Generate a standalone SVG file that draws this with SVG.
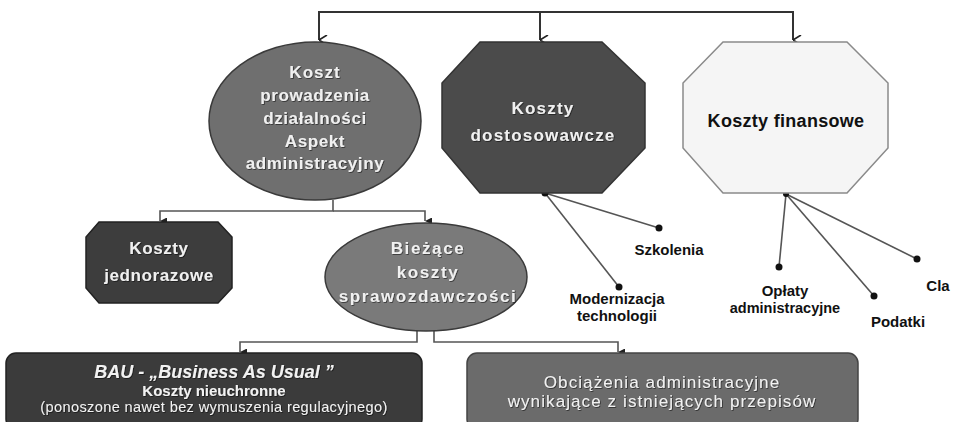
<svg xmlns="http://www.w3.org/2000/svg" width="953" height="422" viewBox="0 0 953 422">
<defs>
<marker id="arr" viewBox="0 0 10 10" refX="5" refY="10" markerWidth="10" markerHeight="10" markerUnits="userSpaceOnUse" orient="auto-start-reverse">
<path d="M0,2 L5,10 L10,2" fill="none" stroke="#222" stroke-width="1.6"/>
</marker>
<marker id="tri" viewBox="0 0 8 8" refX="4" refY="8" markerWidth="7" markerHeight="7" markerUnits="userSpaceOnUse" orient="auto">
<path d="M0,0 L8,0 L4,8 Z" fill="#222"/>
</marker>
<filter id="sh" x="-10%" y="-30%" width="120%" height="160%">
<feDropShadow dx="0.8" dy="0.8" stdDeviation="0.6" flood-color="#000" flood-opacity="0.6"/>
</filter>
</defs>
<style>
text{font-family:"Liberation Sans",Arial,sans-serif;text-anchor:middle}
.w{fill:#f0f0f0;font-weight:bold;font-size:17px;letter-spacing:0.6px;filter:url(#sh)}
.b{fill:#111;font-weight:bold;font-size:15px}
.conn{fill:none;stroke:#333;stroke-width:2}
.thin{fill:none;stroke:#555;stroke-width:1.6}
.dot{fill:#111}
</style>
<rect width="953" height="422" fill="#fff"/>
<g id="connectors">
<path class="conn" d="M319,40 V12 H793 V40" marker-end="url(#arr)"/>
<path class="conn" d="M319,12 V40" marker-end="url(#arr)"/>
<path class="conn" d="M540,12 V40" marker-end="url(#arr)"/>
<path class="thin" d="M333,200 V211 H160 V221" marker-end="url(#tri)"/>
<path class="thin" d="M333,211 H425 V221" marker-end="url(#tri)"/>
<path class="thin" d="M417,331 V342 H240 V352" marker-end="url(#tri)"/>
<path class="thin" d="M434,331 V342 H618 V352" marker-end="url(#tri)"/>
<line class="thin" x1="545" y1="193" x2="659" y2="228"/>
<line class="thin" x1="545" y1="193" x2="619" y2="287"/>
<line class="thin" x1="786" y1="194" x2="779" y2="267"/>
<line class="thin" x1="786" y1="194" x2="874" y2="296"/>
<line class="thin" x1="786" y1="194" x2="917" y2="259"/>
<circle class="dot" cx="545" cy="193" r="3.5"/>
<circle class="dot" cx="659" cy="228" r="3.5"/>
<circle class="dot" cx="619" cy="287" r="3.5"/>
<circle class="dot" cx="786" cy="194" r="3"/>
<circle class="dot" cx="779" cy="267" r="3.5"/>
<circle class="dot" cx="874" cy="296" r="3.5"/>
<circle class="dot" cx="917" cy="259" r="3.5"/>
</g>
<g id="koszt-prowadzenia">
<ellipse cx="315" cy="121" rx="106" ry="79" fill="#6f6f6f" stroke="#3a3a3a" stroke-width="1.5"/>
<text class="w" x="315" y="78" style="letter-spacing:1px">Koszt</text>
<text class="w" x="315" y="101">prowadzenia</text>
<text class="w" x="315" y="124">działalności</text>
<text class="w" x="315" y="147">Aspekt</text>
<text class="w" x="315" y="169">administracyjny</text>
</g>
<g id="koszty-dostosowawcze">
<polygon points="480,42 602,42 645,83 645,148 602,193 480,193 442,148 442,83" fill="#4b4b4b" stroke="#333" stroke-width="1.5"/>
<text class="w" x="543" y="114" style="letter-spacing:1.2px">Koszty</text>
<text class="w" x="543" y="141" style="letter-spacing:1.2px">dostosowawcze</text>
</g>
<g id="koszty-finansowe">
<polygon points="723,42 847,42 888,83 888,148 847,193 723,193 683,148 683,83" fill="#f5f5f5" stroke="#8a8a8a" stroke-width="1.5"/>
<text x="786" y="127" style="fill:#111;font-weight:bold;font-size:18px;letter-spacing:0.3px">Koszty finansowe</text>
</g>
<g id="koszty-jednorazowe">
<polygon points="99,222 218,222 232,237 232,288 218,303 99,303 86,288 86,237" fill="#3d3d3d" stroke="#222" stroke-width="1.5"/>
<text class="w" x="159" y="254">Koszty</text>
<text class="w" x="159" y="281">jednorazowe</text>
</g>
<g id="biezace-koszty">
<ellipse cx="426" cy="277" rx="101" ry="54" fill="#7a7a7a" stroke="#3a3a3a" stroke-width="1.5"/>
<text class="w" x="428" y="254" style="letter-spacing:1.6px">Bieżące</text>
<text class="w" x="428" y="278" style="letter-spacing:1.6px">koszty</text>
<text class="w" x="428" y="302" style="letter-spacing:1.6px">sprawozdawczości</text>
</g>
<g id="bau">
<rect x="6" y="353" width="416" height="76" rx="10" fill="#3b3b3b" stroke="#222" stroke-width="1.5"/>
<text x="214" y="378" style="fill:#f2f2f2;font-weight:bold;font-style:italic;font-size:18px;filter:url(#sh)">BAU - „Business As Usual ”</text>
<text x="214" y="396" style="fill:#f2f2f2;font-weight:bold;font-size:15px;filter:url(#sh)">Koszty nieuchronne</text>
<text x="214" y="412" style="fill:#f2f2f2;font-size:14.5px;letter-spacing:0.4px;filter:url(#sh)">(ponoszone  nawet bez wymuszenia  regulacyjnego)</text>
</g>
<g id="obciazenia">
<rect x="467" y="353" width="391" height="76" rx="10" fill="#6b6b6b" stroke="#444" stroke-width="1.5"/>
<text x="662" y="388" style="fill:#f2f2f2;font-size:17px;letter-spacing:1.1px;filter:url(#sh)">Obciążenia administracyjne</text>
<text x="662" y="407" style="fill:#f2f2f2;font-size:17px;letter-spacing:1.1px;filter:url(#sh)">wynikające z istniejących przepisów</text>
</g>
<g id="szkolenia"><text class="b" x="669" y="255">Szkolenia</text></g>
<g id="modernizacja"><text class="b" x="617" y="304">Modernizacja</text><text class="b" x="617" y="321">technologii</text></g>
<g id="oplaty"><text class="b" x="785" y="296">Opłaty</text><text class="b" x="785" y="313" style="font-size:14.5px">administracyjne</text></g>
<g id="podatki"><text class="b" x="898" y="327">Podatki</text></g>
<g id="cla"><text class="b" x="938" y="291">Cla</text></g>
</svg>
